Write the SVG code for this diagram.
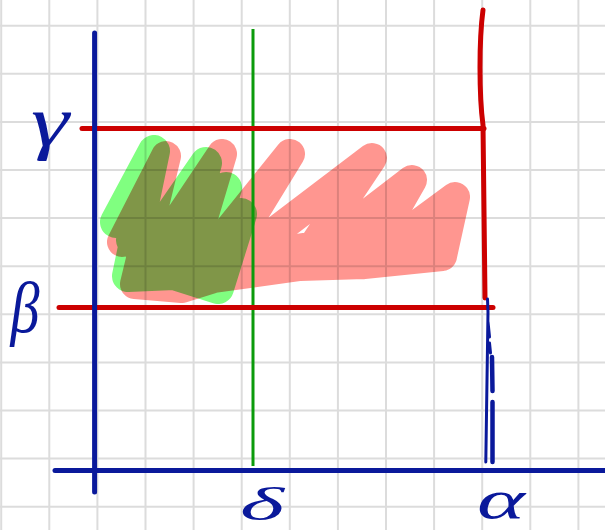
<svg xmlns="http://www.w3.org/2000/svg" width="605" height="530" viewBox="0 0 605 530">
  <style>
    .grid line { stroke: #dcdcdc; stroke-width: 2; }
    .scrib { fill: none; stroke-linecap: round; stroke-linejoin: round; mix-blend-mode: multiply; }
    .blue { stroke: #0a199b; fill: none; stroke-linecap: round; stroke-linejoin: round; }
    .red { stroke: #cc0000; fill: none; stroke-linecap: round; stroke-linejoin: round; stroke-width: 5; }
    .lbl { font-family: "Liberation Serif", "DejaVu Serif", serif; font-style: italic; fill: #0a199b; text-anchor: middle; }
  </style>
  <rect width="605" height="530" fill="#ffffff"/>
  <g id="grid" class="grid">
    <line x1="1.2" y1="0" x2="1.2" y2="530"/>
    <line x1="49.3" y1="0" x2="49.3" y2="530"/>
    <line x1="97.4" y1="0" x2="97.4" y2="530"/>
    <line x1="145.5" y1="0" x2="145.5" y2="530"/>
    <line x1="193.6" y1="0" x2="193.6" y2="530"/>
    <line x1="241.7" y1="0" x2="241.7" y2="530"/>
    <line x1="289.8" y1="0" x2="289.8" y2="530"/>
    <line x1="337.9" y1="0" x2="337.9" y2="530"/>
    <line x1="386" y1="0" x2="386" y2="530"/>
    <line x1="434.1" y1="0" x2="434.1" y2="530"/>
    <line x1="482.2" y1="0" x2="482.2" y2="530"/>
    <line x1="530.3" y1="0" x2="530.3" y2="530"/>
    <line x1="578.4" y1="0" x2="578.4" y2="530"/>
    <line x1="0" y1="25.7" x2="605" y2="25.7"/>
    <line x1="0" y1="73.8" x2="605" y2="73.8"/>
    <line x1="0" y1="121.9" x2="605" y2="121.9"/>
    <line x1="0" y1="170" x2="605" y2="170"/>
    <line x1="0" y1="218.1" x2="605" y2="218.1"/>
    <line x1="0" y1="266.2" x2="605" y2="266.2"/>
    <line x1="0" y1="314.3" x2="605" y2="314.3"/>
    <line x1="0" y1="362.4" x2="605" y2="362.4"/>
    <line x1="0" y1="410.5" x2="605" y2="410.5"/>
    <line x1="0" y1="458.6" x2="605" y2="458.6"/>
    <line x1="0" y1="506.7" x2="605" y2="506.7"/>
  </g>
  <g id="scribbles">
    <path id="pink-scribble" class="scrib" stroke="#ff9690" stroke-width="30" d="M122,242 L166,156 L135,284 L222,154 L182,288 L290,154 L214,278 L372,158 L300,266 L412,180 L364,264 L455,197 L442,256 M135,284 L182,288 L214,278 L300,266 L364,264 L442,256 M200,262 L250,256 L330,244 L395,240 L432,236 M140,252 L205,244 M150,268 L200,266"/>
    <path id="green-scribble" class="scrib" stroke="#80ff80" stroke-width="32" d="M116,222 L154,151 L128,276 L206,163 L174,274 L226,188 L200,272 L241,214 L218,288 M128,276 L174,274 L218,288 M132,240 L190,236 M138,258 L200,255 M145,266 L205,264"/>
  </g>
  <g id="lines">
    <line id="delta-line" x1="253" y1="29" x2="253" y2="466" stroke="#0b9b0b" stroke-width="3"/>
    <line id="gamma-line" class="red" x1="82" y1="128.5" x2="484" y2="128.5"/>
    <line id="beta-line" class="red" x1="59" y1="307.5" x2="493" y2="307.5"/>
    <path id="alpha-line" class="red" d="M483,10 C479,40 479,95 483,125 L485,298"/>
    <line id="y-axis" class="blue" stroke-width="5" x1="94.6" y1="33" x2="94.6" y2="492"/>
    <line id="x-axis" class="blue" stroke-width="5" x1="55" y1="470.6" x2="605" y2="470.6"/>
    <path id="alpha-drop" class="blue" stroke-width="3" d="M487.5,299 L488,312 L485.8,462 M488,322 L489.5,337 M489.5,343 L490.5,353"/>
    <path id="alpha-drop-2" class="blue" stroke-width="4.5" d="M492,357 L492.5,391 M492.5,402 L492.5,462"/>
  </g>
  <g id="labels">
    <text class="lbl" x="50" y="146" font-size="72" textLength="38" lengthAdjust="spacingAndGlyphs">γ</text>
    <text class="lbl" x="25" y="332" font-size="72" textLength="29" lengthAdjust="spacingAndGlyphs">β</text>
    <text class="lbl" x="262" y="520" font-size="46" textLength="44" lengthAdjust="spacingAndGlyphs">δ</text>
    <text class="lbl" x="501" y="518" font-size="54" textLength="48" lengthAdjust="spacingAndGlyphs">α</text>
  </g>
</svg>
